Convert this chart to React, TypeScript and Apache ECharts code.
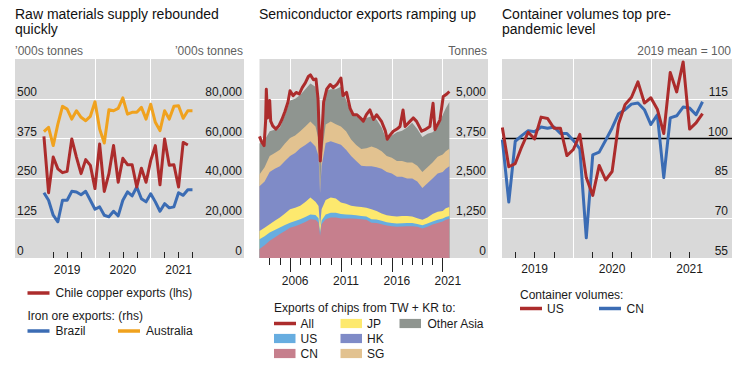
import React, { useEffect, useRef } from "react";
import * as echarts from "echarts";

// ---------- helpers for date categories ----------
const monthsFrom = (start: string, n: number): string[] => {
  const [y, m] = start.split("-").map(Number);
  const out: string[] = [];
  for (let i = 0; i < n; i++) {
    const t = y * 12 + (m - 1) + i;
    out.push(`${Math.floor(t / 12)}-${String((t % 12) + 1).padStart(2, "0")}`);
  }
  return out;
};
const toYear = (s: string) => {
  const [y, m] = s.split("-").map(Number);
  return y + m / 12; // plotted at month end
};

// ---------- Panel 1: raw materials ----------
const copperMonths = monthsFrom("2019-01", 32);
const ironMonths = monthsFrom("2019-01", 33);
const chileCopper = [382, 205, 317, 280, 268, 272, 374, 317, 265, 309, 291, 218, 358, 209, 265, 353, 238, 313, 293, 293, 223, 282, 238, 306, 353, 230, 374, 291, 293, 223, 363, 355];
const brazilIron = [32800, 29000, 21500, 18200, 29000, 29000, 33500, 33200, 31800, 33500, 29000, 24500, 25700, 21500, 20700, 23500, 21200, 29000, 33200, 31200, 35700, 29800, 28200, 32300, 28200, 23500, 27300, 25200, 25700, 32800, 31500, 34300, 34300];
const australiaIron = [63500, 65700, 56500, 67300, 76200, 74800, 69800, 74000, 70700, 69000, 71200, 78500, 64800, 57800, 74500, 74000, 75200, 80500, 72300, 73200, 73200, 75700, 69800, 77300, 68200, 64000, 74000, 69800, 76200, 76500, 70200, 74000, 74000];
const p1LeftTicks = [0, 125, 250, 375, 500];
const p1RightTicks = [0, 20000, 40000, 60000, 80000];

// ---------- Panel 2: semiconductor exports (tonnes) ----------
const chipDates = [2003.0, 2003.5, 2004.0, 2004.5, 2005.0, 2005.5, 2006.0, 2006.5, 2007.0, 2007.5, 2008.0, 2008.5, 2008.8, 2008.95, 2009.1, 2009.5, 2010.0, 2010.5, 2011.0, 2011.5, 2012.0, 2012.5, 2013.0, 2013.5, 2014.0, 2014.5, 2015.0, 2015.5, 2016.0, 2016.5, 2017.0, 2017.5, 2018.0, 2018.5, 2019.0, 2019.5, 2020.0, 2020.5, 2021.0, 2021.3, 2021.65];
const chipsCN = [280, 400, 540, 640, 750, 850, 950, 1000, 1060, 1130, 1220, 1200, 1110, 700, 1060, 1220, 1270, 1270, 1240, 1240, 1240, 1230, 1220, 1200, 1110, 1100, 1060, 1020, 1000, 980, 990, 1000, 1000, 980, 930, 980, 1050, 1100, 1150, 1200, 1230];
const chipsUS = [310, 280, 260, 240, 210, 190, 160, 160, 160, 160, 150, 150, 140, 100, 120, 150, 150, 150, 140, 130, 120, 110, 100, 100, 110, 110, 110, 100, 100, 100, 100, 100, 100, 90, 100, 100, 100, 100, 90, 90, 90];
const chipsJP = [260, 270, 260, 290, 310, 360, 420, 420, 420, 470, 530, 420, 380, 210, 350, 450, 480, 450, 360, 330, 280, 280, 280, 280, 310, 270, 230, 220, 220, 220, 230, 220, 200, 180, 170, 190, 230, 250, 240, 270, 280];
const chipsHK = [1400, 1450, 1640, 1630, 1610, 1650, 1670, 1720, 1810, 1790, 1770, 1730, 1570, 1040, 1350, 1790, 1770, 1740, 1820, 1700, 1560, 1430, 1300, 1300, 1350, 1370, 1400, 1360, 1330, 1250, 1230, 1180, 1200, 1150, 1000, 1080, 1120, 1200, 1220, 1240, 1280];
const chipsSG = [370, 450, 500, 500, 520, 550, 570, 550, 530, 580, 620, 630, 520, 50, 320, 580, 620, 590, 570, 580, 520, 500, 520, 570, 620, 600, 550, 500, 500, 500, 500, 500, 500, 500, 500, 500, 500, 530, 550, 550, 550];
const chipsOtherAsia = [980, 850, 780, 730, 680, 900, 1180, 1150, 1140, 1170, 1190, 1250, 1040, 890, 620, 1060, 1010, 1100, 1250, 990, 830, 900, 980, 950, 950, 900, 750, 500, 700, 900, 950, 1100, 1250, 1150, 1100, 1050, 950, 920, 1250, 1350, 1470];
const allDates = [2003.0, 2003.2, 2003.45, 2003.6, 2003.67, 2003.8, 2004.0, 2004.1, 2004.3, 2004.6, 2004.9, 2005.2, 2005.5, 2005.8, 2006.0, 2006.3, 2006.6, 2006.9, 2007.2, 2007.5, 2007.8, 2008.0, 2008.3, 2008.55, 2008.75, 2008.9, 2008.97, 2009.1, 2009.3, 2009.6, 2009.95, 2010.25, 2010.6, 2011.0, 2011.2, 2011.55, 2011.9, 2012.2, 2012.55, 2012.9, 2013.2, 2013.5, 2013.85, 2014.2, 2014.5, 2015.0, 2015.35, 2015.55, 2015.8, 2016.14, 2016.5, 2016.8, 2017.1, 2017.3, 2017.78, 2018.1, 2018.43, 2018.93, 2019.25, 2019.74, 2020.05, 2020.24, 2020.73, 2021.05, 2021.4, 2021.65];
const chipsAll = [3820, 3650, 3530, 4300, 5300, 4400, 4950, 4300, 4150, 4050, 4150, 4350, 4600, 4900, 5250, 5100, 5200, 5150, 5350, 5500, 5700, 5750, 5600, 5620, 5000, 3600, 3050, 3700, 4900, 5300, 5450, 5350, 5450, 5650, 5100, 5200, 4700, 4500, 4500, 4400, 4300, 4500, 4650, 4350, 4500, 4280, 4000, 3730, 3850, 3980, 4050, 4130, 4650, 4130, 4290, 4400, 4290, 3980, 4030, 4130, 4860, 4030, 4340, 5070, 5150, 5230];
const p2Ticks = [0, 1250, 2500, 3750, 5000];

// ---------- Panel 3: container volumes (2019 mean = 100) ----------
const containerMonths = monthsFrom("2019-01", 32);
const containerUS = [104.2, 89.4, 90.6, 96.9, 102.4, 99.9, 108.1, 107.6, 103.9, 103.9, 93.6, 95.9, 101.6, 85.3, 78.6, 89.9, 84.4, 87.6, 105.6, 112.8, 115.6, 121.4, 113.4, 115.4, 111.1, 101.9, 124.9, 117.6, 128.9, 103.6, 105.9, 109.4];
const containerCN = [99.6, 76.1, 99.0, 101.1, 103.0, 102.6, 104.4, 103.9, 104.4, 101.9, 101.9, 99.3, 96.1, 62.6, 93.9, 94.9, 99.4, 104.0, 109.4, 110.9, 113.0, 113.4, 110.9, 105.3, 109.0, 85.3, 107.8, 108.6, 111.9, 111.5, 109.0, 113.9];
const p3Ticks = [55, 70, 85, 100, 115];

// ---------- styling ----------
const FONT = '"Liberation Sans", Arial, sans-serif';
const RED = "#ac2c2c";
const BLUE = "#3b6cb4";
const ORANGE = "#f0a21e";
const C_CN = "#c67f8d";
const C_US = "#67ade0";
const C_JP = "#fde96e";
const C_HK = "#7f8bc7";
const C_SG = "#e2c290";
const C_OA = "#8f9590";
const BG = "#d9d9d9";
const TXT = "#1a1a1a";
const UNIT = "#5f5f5f";

const pair = (xs: number[], ys: number[]) => ys.map((v, i) => [xs[i], v]);

const hiddenX = (gridIndex: number, min: number, max: number) => ({
  type: "value",
  gridIndex,
  position: "bottom",
  offset: 0,
  min,
  max,
  axisLine: { show: false },
  splitLine: { show: false },
});

const lineSeries = (name: string, data: any[], color: string, xi: number, yi: number, z = 3, width = 3) => ({
  name,
  type: "line",
  data,
  xAxisIndex: xi,
  yAxisIndex: yi,
  showSymbol: false,
  symbol: "none",
  z,
  lineStyle: { color, width, join: "round" },
  itemStyle: { color },
});

const gridMarks = (xi: number, yi: number, data: any[], markData: any[], z = 1) => ({
  type: "line",
  data,
  xAxisIndex: xi,
  yAxisIndex: yi,
  showSymbol: false,
  symbol: "none",
  silent: true,
  z,
  lineStyle: { opacity: 0 },
  markLine: {
    silent: true,
    z,
    symbol: ["none", "none"],
    label: { show: false },
    lineStyle: { color: "#ffffff", width: 1, type: "solid" },
    data: markData,
  },
});

// layers from bottom to top; each area is drawn as its cumulative total down to zero,
// upper totals first so the lower layers cover them, giving the stack
const chipLayers: [string, number[], string][] = [
  ["CN", chipsCN, C_CN],
  ["US", chipsUS, C_US],
  ["JP", chipsJP, C_JP],
  ["HK", chipsHK, C_HK],
  ["SG", chipsSG, C_SG],
  ["Other Asia", chipsOtherAsia, C_OA],
];
const buildAreas = () => {
  const running = chipDates.map(() => 0);
  const built = chipLayers.map(([name, vals, color]) => {
    const cum = vals.map((v, i) => (running[i] += v));
    return {
      name,
      type: "line",
      data: pair(chipDates, cum.slice()),
      xAxisIndex: 2,
      yAxisIndex: 2,
      showSymbol: false,
      symbol: "none",
      z: 2,
      lineStyle: { width: 0, color },
      areaStyle: { color, opacity: 1, origin: "start" },
      itemStyle: { color },
    };
  });
  return built.reverse();
};

const txt = (text: string, x: number, y: number, opts: any = {}) => ({
  type: "text",
  x,
  y,
  silent: true,
  style: {
    text,
    fill: opts.fill || TXT,
    font: `${opts.size || 12}px ${FONT}`,
    align: opts.align || "left",
    verticalAlign: "middle",
  },
});
const lineSwatch = (x: number, y: number, color: string) => ({
  type: "rect",
  silent: true,
  shape: { x, y: y - 1.75, width: 22, height: 3.5 },
  style: { fill: color },
});
const boxSwatch = (x: number, y: number, color: string) => ({
  type: "rect",
  silent: true,
  shape: { x, y: y - 4.6, width: 21.5, height: 9.2 },
  style: { fill: color },
});

export default function App() {
  const ref = useRef<HTMLDivElement>(null);

  useEffect(() => {
    if (!ref.current) return;
    const chart = echarts.init(ref.current, undefined, { renderer: "svg" });

    const gridBase = { show: true, backgroundColor: BG, borderWidth: 0, containLabel: false };
    const tickStyle = { color: "#222", width: 1 };
    const labelBase = { color: TXT, fontSize: 12, fontFamily: FONT };

    const option: any = {
      animation: false,
      textStyle: { fontFamily: FONT },
      grid: [
        { ...gridBase, left: 15, top: 59, width: 229, height: 199 },
        { ...gridBase, left: 259.5, top: 59, width: 228.5, height: 199 },
        { ...gridBase, left: 502, top: 59, width: 230, height: 199 },
      ],
      xAxis: [
        {
          ...hiddenX(0, 2018.564, 2022.675),
          axisTick: { show: true, inside: true, length: 6, lineStyle: tickStyle, customValues: [2019.25, 2019.5, 2019.75, 2020.25, 2020.5, 2020.75, 2021.25, 2021.5, 2021.75] },
          axisLabel: { ...labelBase, margin: 6, customValues: [2019.5, 2020.5, 2021.5], formatter: (v: number) => String(Math.floor(v)) },
        },
        {
          ...hiddenX(0, 2018.564, 2022.675),
          axisTick: { show: true, inside: true, length: 12, lineStyle: tickStyle, customValues: [2020, 2021] },
          axisLabel: { show: false },
        },
        {
          ...hiddenX(1, 2003, 2025.446),
          axisTick: { show: true, inside: false, length: 7, lineStyle: tickStyle, customValues: [2004, 2005, 2007, 2008, 2009, 2010, 2012, 2013, 2014, 2015, 2017, 2018, 2019, 2020] },
          axisLabel: { ...labelBase, margin: 17, customValues: [2006.5, 2011.5, 2016.5, 2021.5], formatter: (v: number) => String(Math.floor(v)) },
        },
        {
          ...hiddenX(1, 2003, 2025.446),
          axisTick: { show: true, inside: false, length: 14, lineStyle: tickStyle, customValues: [2006, 2011, 2016, 2021] },
          axisLabel: { show: false },
        },
        {
          ...hiddenX(2, 2019.079, 2022.047),
          axisTick: { show: true, inside: true, length: 6, lineStyle: tickStyle, customValues: [2019.25, 2019.5, 2019.75, 2020.25, 2020.5, 2020.75, 2021.25, 2021.5] },
          axisLabel: { ...labelBase, margin: 5, customValues: [2019.5, 2020.5, 2021.5], formatter: (v: number) => String(Math.floor(v)) },
        },
        {
          ...hiddenX(2, 2019.079, 2022.047),
          axisTick: { show: true, inside: true, length: 12, lineStyle: tickStyle, customValues: [2020, 2021] },
          axisLabel: { show: false },
        },
      ],
      yAxis: [
        {
          type: "value", gridIndex: 0, position: "left", min: 0, max: 625, interval: 125,
          axisLine: { show: false }, axisTick: { show: false },
          splitLine: { show: true, showMinLine: false, showMaxLine: false, lineStyle: { color: "#fff", width: 1 } },
          axisLabel: { ...labelBase, inside: true, align: "left", verticalAlign: "bottom", margin: 2, padding: [0, 0, 1, 0], customValues: p1LeftTicks },
        },
        {
          type: "value", gridIndex: 0, position: "right", min: 0, max: 100000, interval: 20000,
          axisLine: { show: false }, axisTick: { show: false }, splitLine: { show: false },
          axisLabel: { ...labelBase, inside: true, align: "right", verticalAlign: "bottom", margin: 2, padding: [0, 0, 1, 0], customValues: p1RightTicks, formatter: (v: number) => v.toLocaleString("en-US") },
        },
        {
          type: "value", gridIndex: 1, position: "right", min: 0, max: 6250, interval: 1250,
          axisLine: { show: false }, axisTick: { show: false },
          splitLine: { show: true, showMinLine: false, showMaxLine: false, lineStyle: { color: "#fff", width: 1 } },
          axisLabel: { ...labelBase, inside: true, align: "right", verticalAlign: "bottom", margin: 2, padding: [0, 0, 1, 0], customValues: p2Ticks, formatter: (v: number) => v.toLocaleString("en-US") },
        },
        {
          type: "value", gridIndex: 2, position: "right", min: 55, max: 130,
          axisLine: { show: false }, axisTick: { show: false }, splitLine: { show: false },
          axisLabel: { ...labelBase, inside: true, align: "right", verticalAlign: "bottom", margin: 4, padding: [0, 0, 1, 0], customValues: p3Ticks },
        },
      ],
      series: [
        // panel 1
        gridMarks(0, 0, pair(copperMonths.map(toYear), chileCopper), [{ xAxis: 2020 }, { xAxis: 2021 }]),
        lineSeries("Brazil", pair(ironMonths.map(toYear), brazilIron), BLUE, 0, 1, 3),
        lineSeries("Australia", pair(ironMonths.map(toYear), australiaIron), ORANGE, 0, 1, 3),
        lineSeries("Chile copper exports (lhs)", pair(copperMonths.map(toYear), chileCopper), RED, 0, 0, 4),
        // panel 2
        gridMarks(2, 2, pair(allDates, chipsAll), [{ xAxis: 2006 }, { xAxis: 2011 }, { xAxis: 2016 }, { xAxis: 2021 }]),
        ...buildAreas(),
        lineSeries("All", pair(allDates, chipsAll), RED, 2, 2, 5, 3),
        // panel 3
        gridMarks(4, 3, pair(containerMonths.map(toYear), containerUS), [
          { xAxis: 2020 }, { xAxis: 2021 },
          { yAxis: 70 }, { yAxis: 85 }, { yAxis: 115 },
          { yAxis: 100, lineStyle: { color: "#000", width: 1.3 } },
        ]),
        lineSeries("CN", pair(containerMonths.map(toYear), containerCN), BLUE, 4, 3, 3),
        lineSeries("US", pair(containerMonths.map(toYear), containerUS), RED, 4, 3, 4),
      ],
      graphic: [
        // titles
        txt("Raw materials supply rebounded", 15, 13.5, { size: 14, fill: "#111" }),
        txt("quickly", 15, 28.5, { size: 14, fill: "#111" }),
        txt("Semiconductor exports ramping up", 259, 13.5, { size: 14, fill: "#111" }),
        txt("Container volumes top pre-", 502, 13.5, { size: 14, fill: "#111" }),
        txt("pandemic level", 502, 28.5, { size: 14, fill: "#111" }),
        // units
        txt("\u2019000s tonnes", 15, 50.5, { fill: UNIT }),
        txt("\u2019000s tonnes", 243, 50.5, { fill: UNIT, align: "right" }),
        txt("Tonnes", 487, 50.5, { fill: UNIT, align: "right" }),
        txt("2019 mean = 100", 731, 50.5, { fill: UNIT, align: "right" }),
        // legend panel 1
        lineSwatch(27.5, 293, RED),
        txt("Chile copper exports (lhs)", 55.5, 293),
        txt("Iron ore exports: (rhs)", 27.5, 316),
        lineSwatch(27.5, 331, BLUE),
        txt("Brazil", 55.5, 331),
        lineSwatch(118, 331, ORANGE),
        txt("Australia", 146, 331),
        // legend panel 2
        txt("Exports of chips from TW + KR to:", 274, 308),
        lineSwatch(274, 323.5, RED),
        txt("All", 300.5, 323.5),
        boxSwatch(340.5, 323.5, C_JP),
        txt("JP", 367, 323.5),
        boxSwatch(399.5, 323.5, C_OA),
        txt("Other Asia", 427.5, 323.5),
        boxSwatch(274, 338.5, C_US),
        txt("US", 300.5, 338.5),
        boxSwatch(340.5, 338.5, C_HK),
        txt("HK", 367, 338.5),
        boxSwatch(274, 353.5, C_CN),
        txt("CN", 300.5, 353.5),
        boxSwatch(340.5, 353.5, C_SG),
        txt("SG", 367, 353.5),
        // legend panel 3
        txt("Container volumes:", 520, 294.5),
        lineSwatch(520, 308.5, RED),
        txt("US", 547, 308.5),
        lineSwatch(599, 308.5, BLUE),
        txt("CN", 626.5, 308.5),
      ],
    };

    chart.setOption(option);
    return () => chart.dispose();
  }, []);

  return (
    <div
      ref={ref}
      style={{ position: "fixed", left: 0, top: 0, width: 752, height: 365, background: "#fff" }}
    />
  );
}
